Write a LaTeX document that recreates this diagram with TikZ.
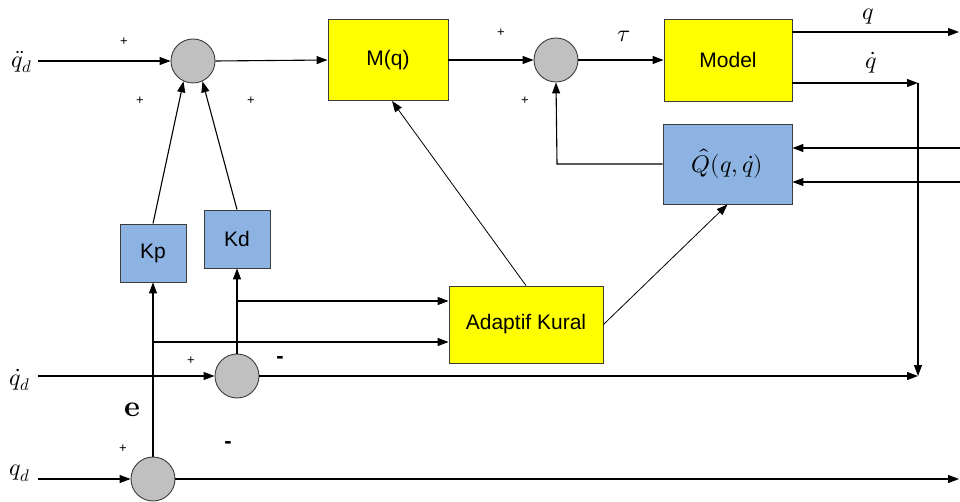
\documentclass[tikz,border=0pt]{standalone}
\usepackage{fontspec}
\usepackage{unicode-math}
\setmainfont{Liberation Sans}
\setmathfont{Latin Modern Math}
\usetikzlibrary{arrows.meta}
\definecolor{boxyellow}{RGB}{255,255,0}
\definecolor{boxblue}{RGB}{141,179,226}
\definecolor{sumgray}{RGB}{192,192,192}
\definecolor{edgegray}{RGB}{60,60,60}
\begin{document}
\begin{tikzpicture}[x=1pt,y=-1pt,
  every path/.style={line width=1.1pt},
  arr/.style={-{Triangle[length=11pt,width=8pt]}},
  yblock/.style={draw=edgegray,fill=boxyellow,line width=0.9pt,font=\fontsize{21}{24}\selectfont},
  bblock/.style={draw=edgegray,fill=boxblue,line width=0.9pt,font=\fontsize{21}{24}\selectfont},
  sumnode/.style={circle,draw=edgegray,fill=sumgray,minimum size=44pt,inner sep=0pt,line width=0.9pt},
  lbl/.style={font=\fontsize{24}{26}\selectfont,inner sep=0pt},
  sgn/.style={font=\fontsize{13}{14}\selectfont},
  msgn/.style={font=\fontsize{22}{24}\selectfont\bfseries}]
\useasboundingbox (0,0) rectangle (960,502);
% summing junctions
\node[sumnode] (s1) at (193,61) {};
\node[sumnode] (s2) at (556,60) {};
\node[sumnode] (s3) at (237,376) {};
\node[sumnode] (s4) at (153,479) {};
% blocks
\node[yblock,minimum width=120pt,minimum height=81pt] (M) at (388,60) {M(q)};
\node[yblock,minimum width=128pt,minimum height=82pt] (model) at (728,60) {Model};
\node[bblock,minimum width=129pt,minimum height=80pt,font=\fontsize{24}{26}\selectfont] (Q) at (727.5,164) {$\hat{Q}(q,\dot{q})$};
\node[bblock,minimum width=66pt,minimum height=58pt] (kp) at (153,253) {Kp};
\node[bblock,minimum width=66pt,minimum height=58pt] (kd) at (237,239) {Kd};
\node[yblock,minimum width=154pt,minimum height=77pt] (ak) at (526,324.5) {Adaptif Kural};
% coordinates
\coordinate (in1) at (38,61);
\coordinate (in3) at (38,376);
\coordinate (in4) at (38,479);
\coordinate (qout) at (959,32);
\coordinate (qdcorner) at (918,83);
\coordinate (qdend) at (918,376);
\coordinate (rin1) at (960,148);
\coordinate (rin2) at (960,182);
\coordinate (qcorner) at (557,164);
\coordinate (kdbr) at (237,301);
\coordinate (kpbr) at (153,342);
\coordinate (eout) at (959,479);
% labels
\node[lbl] (lqdd) at (22,62) {$\ddot{q}_d$};
\node[lbl] (lqd1) at (20,380) {$\dot{q}_d$};
\node[lbl] (lqd0) at (20,473) {$q_d$};
\node[lbl] (ltau) at (624,36) {$\tau$};
\node[lbl] (lq) at (868,17) {$q$};
\node[lbl] (lqdot) at (871,63) {$\dot{q}$};
\node[lbl,font=\fontsize{30}{32}\selectfont] (le) at (132,410) {$\symbf{e}$};
\node[sgn] (p1) at (124,42) {+};
\node[sgn] (p2) at (140,101) {+};
\node[sgn] (p3) at (251,101) {+};
\node[sgn] (p4) at (501,33) {+};
\node[sgn] (p5) at (525,101) {+};
\node[sgn] (p6) at (191,361) {+};
\node[sgn] (p7) at (123,449) {+};
\node[msgn] (m1) at (280,360) {-};
\node[msgn] (m2) at (228,445) {-};
% connectors
\draw[arr] (in1) -- (s1.west);
\draw[arr] (s1.east) -- (M.west);
\draw[arr] (M.east) -- (s2.west);
\draw[arr] (s2.east) -- (model.west);
\draw[arr] (model.east |- qout) -- (qout);
\draw[arr] (model.east |- qdcorner) -- (qdcorner);
\draw[arr] (qdcorner) -- (qdend);
\draw[arr] (rin1) -- (Q.east |- rin1);
\draw[arr] (rin2) -- (Q.east |- rin2);
\draw[arr] (Q.west) -- (qcorner) -- (s2.south);
\draw[arr] (kp.north) -- (s1.-115);
\draw[arr] (kd.north) -- (s1.-65);
\draw[arr,line width=0.8pt] (ak.north) -- (392,101);
\draw[arr,line width=0.8pt] (ak.east) -- (Q.south);
\draw[arr] (s3.north) -- (kd.south);
\draw[arr] (kdbr) -- (ak.west |- kdbr);
\draw[arr] (s4.north) -- (kp.south);
\draw[arr] (kpbr) -- (ak.west |- kpbr);
\draw[arr] (in3) -- (s3.west);
\draw[arr] (s3.east) -- (qdend);
\draw[arr] (in4) -- (s4.west);
\draw[arr] (s4.east) -- (eout);
\end{tikzpicture}
\end{document}
